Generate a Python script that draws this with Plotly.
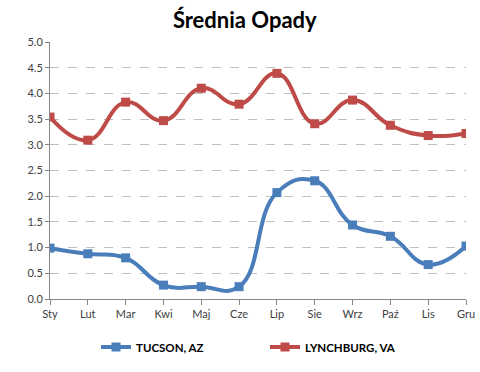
import plotly.graph_objects as go

months = ["Sty", "Lut", "Mar", "Kwi", "Maj", "Cze", "Lip", "Sie", "Wrz", "Paź", "Lis", "Gru"]
tucson = [0.99, 0.88, 0.80, 0.27, 0.24, 0.24, 2.07, 2.30, 1.44, 1.22, 0.67, 1.03]
lynchburg = [3.54, 3.09, 3.83, 3.47, 4.10, 3.79, 4.39, 3.41, 3.87, 3.38, 3.18, 3.22]

fig = go.Figure()
fig.add_trace(go.Scatter(x=months, y=tucson, name="TUCSON, AZ", mode="lines+markers",
                         line=dict(color="#4a7ebb", width=4, shape="spline", smoothing=1.3),
                         marker=dict(symbol="square", size=9, color="#4a7ebb")))
fig.add_trace(go.Scatter(x=months, y=lynchburg, name="LYNCHBURG, VA", mode="lines+markers",
                         line=dict(color="#be4b48", width=4, shape="spline", smoothing=1.3),
                         marker=dict(symbol="square", size=9, color="#be4b48")))

fig.update_layout(
    width=480, height=372,
    margin=dict(l=50, r=14, t=42, b=73, autoexpand=False),
    paper_bgcolor="white", plot_bgcolor="white",
    font=dict(family="Lato", size=11, color="#404040"),
    title=dict(text="<b>Średnia Opady</b>", x=0.51, xanchor="center", y=0.965, yanchor="top",
               font=dict(family="Lato", size=22, color="black")),
    showlegend=True,
    legend=dict(orientation="h", x=0.2, xanchor="left", xref="container",
                y=0.067, yanchor="middle", yref="container",
                font=dict(family="Lato", size=11.5, color="black", weight="bold"),
                itemwidth=30, tracegroupgap=0, entrywidth=124),
    xaxis=dict(range=[0, 11], showline=True, linecolor="#868686", linewidth=1,
               ticks="outside", ticklen=5, tickcolor="#868686", showgrid=False,
               automargin=False, tickfont=dict(size=11, color="#404040")),
    yaxis=dict(range=[0, 5], dtick=0.5, tickformat=".1f", showline=True, linecolor="#868686",
               linewidth=1, ticks="outside", ticklen=4, tickcolor="#868686",
               showgrid=True, gridcolor="#bfbfbf", griddash="dash", gridwidth=1,
               automargin=False, zeroline=False, tickfont=dict(size=11, color="#404040")),
)

fig.write_html("out.html", config={"displayModeBar": False},
               post_script="document.body.style.margin='0px';")
